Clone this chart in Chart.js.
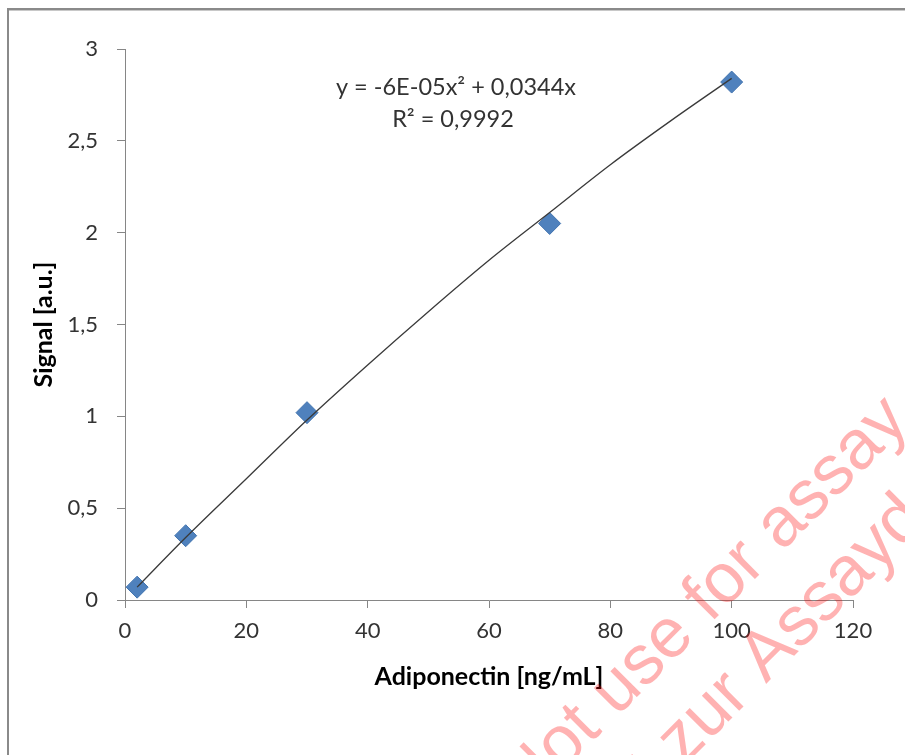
<!DOCTYPE html>
<html lang="de">
<head>
    <meta charset="UTF-8">
    <title>Adiponectin Standardkurve</title>
    <script src="https://cdn.jsdelivr.net/npm/chart.js"></script>
    <style>
        body {
            margin: 0;
            background: #fff;
        }
        .chart-container {
            width: 905px;
            height: 755px;
            position: relative;
        }
    </style>
</head>
<body>
    <div class="chart-container">
        <canvas id="stdChart"></canvas>
    </div>

    <script>
        // Messpunkte (Standards)
        const concentrations = [2, 10, 30, 70, 100];
        const signals = [0.07, 0.35, 1.02, 2.05, 2.82];

        // Trendlinie
        const trendX = [2, 10, 20, 30, 40, 50, 60, 70, 80, 90, 100];
        const trendY = [0.07, 0.34, 0.66, 0.98, 1.28, 1.57, 1.85, 2.11, 2.37, 2.61, 2.84];

        const xTicks = [0, 20, 40, 60, 80, 100, 120];
        const yTicks = [0, 0.5, 1, 1.5, 2, 2.5, 3];

        const xTitle = 'Adiponectin [ng/mL]';
        const yTitle = 'Signal [a.u.]';
        const equationLines = ['y = -6E-05x\u00B2 + 0,0344x', 'R\u00B2 = 0,9992'];
        const watermarkLines = ['Not use for assay', 'Nicht zur Assaydurchführung'];

        const axisColor = '#868686';
        const textColor = '#333333';

        // Rahmen, Achsentitel, Gleichung und Wasserzeichen
        const extrasPlugin = {
            id: 'extras',
            beforeDraw(chart) {
                const ctx = chart.ctx;
                ctx.save();
                ctx.fillStyle = '#ffffff';
                ctx.fillRect(0, 0, chart.width, chart.height);
                ctx.fillStyle = '#8a8a8a';
                ctx.fillRect(7, 8, chart.width, 2);
                ctx.fillStyle = '#c8c8c8';
                ctx.fillRect(9, 10, chart.width, 1);
                ctx.fillStyle = '#8a8a8a';
                ctx.fillRect(7, 8, 2, chart.height);
                ctx.restore();
            },
            afterDraw(chart) {
                const ctx = chart.ctx;
                const area = chart.chartArea;
                ctx.save();
                ctx.fillStyle = '#000';
                ctx.textAlign = 'center';
                ctx.textBaseline = 'alphabetic';
                ctx.font = 'bold 25px Lato';
                ctx.fillText(xTitle, (area.left + area.right) / 2, 685);

                ctx.save();
                ctx.translate(52, (area.top + area.bottom) / 2);
                ctx.rotate(-Math.PI / 2);
                ctx.fillText(yTitle, 0, 0);
                ctx.restore();

                ctx.fillStyle = textColor;
                ctx.font = '23.5px Lato';
                ctx.fillText(equationLines[0], 456, 95);
                ctx.fillText(equationLines[1], 453, 127);

                // Wasserzeichen
                ctx.fillStyle = 'rgba(255, 0, 0, 0.3)';
                ctx.font = '70px "Liberation Sans"';
                ctx.textAlign = 'left';
                const ang = -Math.PI / 4;
                ctx.save();
                ctx.translate(724, 610);
                ctx.rotate(ang);
                ctx.fillText(watermarkLines[0], -ctx.measureText('Not use f').width, 0);
                ctx.restore();
                ctx.save();
                ctx.translate(766, 684);
                ctx.rotate(ang);
                ctx.fillText(watermarkLines[1], -ctx.measureText('Nicht zur ').width, 0);
                ctx.restore();
                ctx.restore();
            }
        };

        const ctx = document.getElementById('stdChart').getContext('2d');
        const stdChart = new Chart(ctx, {
            type: 'scatter',
            data: {
                datasets: [{
                    type: 'line',
                    label: 'Trend',
                    data: trendX.map((x, i) => ({ x: x, y: trendY[i] })),
                    borderColor: '#3a3a3a',
                    borderWidth: 1.3,
                    pointRadius: 0,
                    fill: false,
                    cubicInterpolationMode: 'monotone',
                    order: 0
                }, {
                    label: 'Standards',
                    data: concentrations.map((x, i) => ({ x: x, y: signals[i] })),
                    pointStyle: 'rectRot',
                    pointRadius: 11,
                    pointBackgroundColor: '#4f81bd',
                    pointBorderColor: '#4274b0',
                    pointBorderWidth: 1,
                    order: 1
                }]
            },
            options: {
                responsive: true,
                maintainAspectRatio: false,
                animation: false,
                layout: {
                    padding: { left: 0, top: 49, right: 52, bottom: 0 }
                },
                plugins: {
                    legend: { display: false },
                    tooltip: { enabled: false }
                },
                scales: {
                    x: {
                        type: 'linear',
                        min: 0,
                        max: 120,
                        afterBuildTicks: function (scale) {
                            scale.ticks = xTicks.map(v => ({ value: v }));
                        },
                        afterFit: function (scale) {
                            scale.height = 155;
                        },
                        ticks: {
                            color: textColor,
                            font: { family: 'Lato', size: 22 },
                            padding: 10,
                            maxRotation: 0
                        },
                        grid: {
                            drawOnChartArea: false,
                            drawTicks: true,
                            tickLength: 8,
                            color: axisColor
                        },
                        border: { color: axisColor, width: 1 }
                    },
                    y: {
                        min: 0,
                        max: 3,
                        afterBuildTicks: function (scale) {
                            scale.ticks = yTicks.map(v => ({ value: v }));
                        },
                        afterFit: function (scale) {
                            scale.width = 125;
                        },
                        ticks: {
                            color: textColor,
                            font: { family: 'Lato', size: 22 },
                            padding: 19,
                            callback: function (value) {
                                return String(value).replace('.', ',');
                            }
                        },
                        grid: {
                            drawOnChartArea: false,
                            drawTicks: true,
                            tickLength: 8,
                            color: axisColor
                        },
                        border: { color: axisColor, width: 1 }
                    }
                }
            },
            plugins: [extrasPlugin]
        });
    </script>
</body>
</html>
